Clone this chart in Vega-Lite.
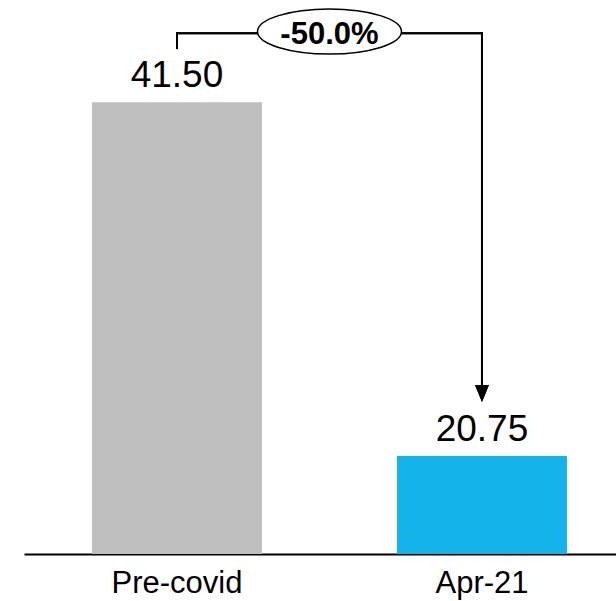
{
  "$schema": "https://vega.github.io/schema/vega-lite/v6.json",
  "width": 592,
  "height": 554,
  "autosize": "none",
  "padding": {"left": 24, "top": 0, "right": 0, "bottom": 47},
  "background": "white",
  "config": {"view": {"stroke": null}, "font": "Liberation Sans"},
  "datasets": {
    "fares": [
      {"period": "Pre-covid", "value": 41.5},
      {"period": "Apr-21", "value": 20.75}
    ],
    "change": [
      {"label": "-50.0%"}
    ]
  },
  "data": {"name": "fares"},
  "resolve": {"scale": {"x": "shared", "y": "shared"}},
  "layer": [
    {
      "mark": {"type": "bar", "clip": true},
      "encoding": {
        "x": {
          "field": "period",
          "type": "nominal",
          "scale": {"domain": ["Pre-covid", "Apr-21"], "paddingInner": 0.4426, "paddingOuter": 0.1918, "align": 0.581},
          "axis": {
            "title": null,
            "labelAngle": 0,
            "labelFontSize": 31,
            "labelColor": "black",
            "labelPadding": 14,
            "ticks": false,
            "grid": false,
            "domainColor": "black",
            "domainWidth": 2
          }
        },
        "y": {
          "field": "value",
          "type": "quantitative",
          "scale": {"domain": [15, 47.5], "zero": false, "nice": false},
          "axis": null
        },
        "color": {
          "field": "period",
          "type": "nominal",
          "scale": {"domain": ["Pre-covid", "Apr-21"], "range": ["#BFBFBF", "#14B3E9"]},
          "legend": null
        }
      }
    },
    {
      "mark": {"type": "text", "baseline": "alphabetic", "dy": -15, "fontSize": 37, "color": "black"},
      "encoding": {
        "x": {"field": "period", "type": "nominal"},
        "y": {"field": "value", "type": "quantitative"},
        "text": {"field": "value", "type": "quantitative", "format": ".2f"}
      }
    },
    {
      "mark": {"type": "rule", "color": "black", "strokeWidth": 2, "strokeCap": "square"},
      "encoding": {
        "x": {"datum": "Pre-covid"},
        "y": {"datum": 45.55},
        "y2": {"datum": 44.68}
      }
    },
    {
      "mark": {"type": "rule", "color": "black", "strokeWidth": 2, "strokeCap": "square"},
      "encoding": {
        "x": {"datum": "Pre-covid"},
        "x2": {"datum": "Apr-21"},
        "y": {"datum": 45.55}
      }
    },
    {
      "mark": {"type": "rule", "color": "black", "strokeWidth": 2, "strokeCap": "square"},
      "encoding": {
        "x": {"datum": "Apr-21"},
        "y": {"datum": 45.55},
        "y2": {"datum": 24.6}
      }
    },
    {
      "mark": {
        "type": "point",
        "shape": "M-0.82,-2L0.82,-2L0,0Z",
        "size": 289,
        "filled": true,
        "color": "black",
        "opacity": 1
      },
      "encoding": {
        "x": {"datum": "Apr-21"},
        "y": {"datum": 23.92}
      }
    },
    {
      "data": {"name": "change"},
      "mark": {
        "type": "point",
        "shape": "M-1,0C-1,-0.1726,-0.5523,-0.3125,0,-0.3125C0.5523,-0.3125,1,-0.1726,1,0C1,0.1726,0.5523,0.3125,0,0.3125C-0.5523,0.3125,-1,0.1726,-1,0Z",
        "size": 20736,
        "filled": false,
        "fill": "white",
        "fillOpacity": 1,
        "stroke": "black",
        "strokeWidth": 1.5,
        "opacity": 1,
        "x": {"expr": "(scale('x', 'Pre-covid') + scale('x', 'Apr-21') + bandwidth('x')) / 2"}
      },
      "encoding": {
        "y": {"datum": 45.65}
      }
    },
    {
      "data": {"name": "change"},
      "mark": {
        "type": "text",
        "baseline": "middle",
        "dy": 3,
        "fontSize": 31,
        "fontWeight": "bold",
        "color": "black",
        "x": {"expr": "(scale('x', 'Pre-covid') + scale('x', 'Apr-21') + bandwidth('x')) / 2"}
      },
      "encoding": {
        "y": {"datum": 45.65},
        "text": {"field": "label"}
      }
    }
  ]
}
